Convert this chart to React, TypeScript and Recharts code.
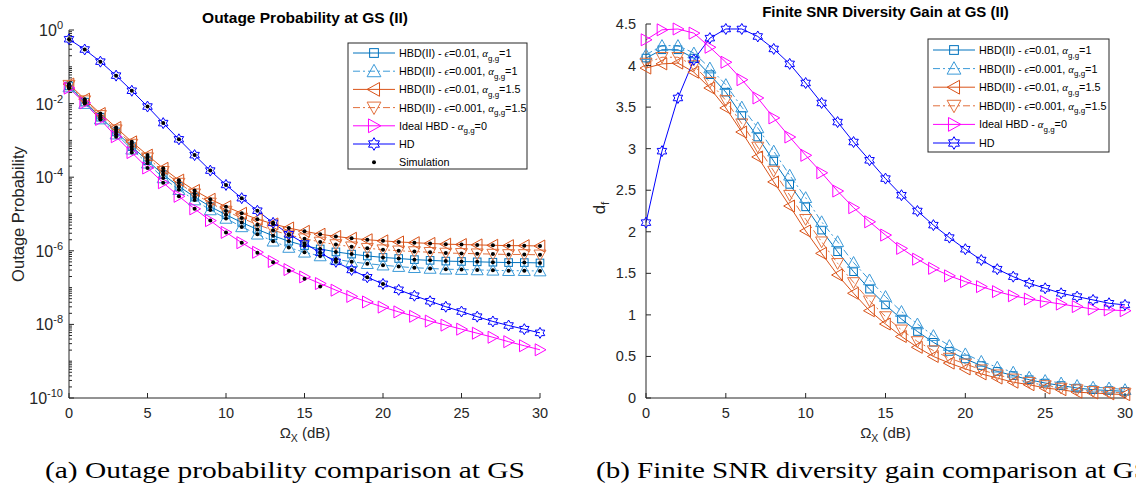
import React from "react";
import { ComposedChart, Line, XAxis, YAxis } from "recharts";

// x axis: Omega_X in dB
const snrDb = [0, 1, 2, 3, 4, 5, 6, 7, 8, 9, 10, 11, 12, 13, 14, 15, 16, 17, 18, 19, 20, 21, 22, 23, 24, 25, 26, 27, 28, 29, 30];
const xTicks = [0, 5, 10, 15, 20, 25, 30];

// (a) outage probability, read as log10 exponents off the log axis
const outHbdE01A1 = [-1.52, -1.96, -2.37, -2.77, -3.17, -3.55, -3.93, -4.25, -4.54, -4.80, -5.02, -5.23, -5.42, -5.59, -5.74, -5.86, -5.95, -6.03, -6.09, -6.14, -6.18, -6.21, -6.24, -6.26, -6.28, -6.29, -6.30, -6.31, -6.32, -6.32, -6.33];
const outHbdE001A1 = [-1.55, -2.00, -2.42, -2.83, -3.24, -3.62, -4.02, -4.34, -4.62, -4.89, -5.12, -5.35, -5.55, -5.74, -5.91, -6.04, -6.14, -6.23, -6.30, -6.35, -6.39, -6.43, -6.46, -6.48, -6.50, -6.51, -6.52, -6.53, -6.54, -6.54, -6.55];
const outHbdE01A15 = [-1.47, -1.88, -2.27, -2.65, -3.04, -3.40, -3.76, -4.08, -4.36, -4.60, -4.80, -4.98, -5.14, -5.27, -5.38, -5.47, -5.55, -5.61, -5.66, -5.70, -5.73, -5.76, -5.78, -5.80, -5.82, -5.83, -5.84, -5.85, -5.86, -5.86, -5.87];
const outHbdE001A15 = [-1.50, -1.92, -2.32, -2.71, -3.10, -3.47, -3.84, -4.16, -4.45, -4.70, -4.92, -5.11, -5.29, -5.44, -5.57, -5.67, -5.76, -5.83, -5.89, -5.93, -5.97, -6.00, -6.02, -6.04, -6.06, -6.07, -6.08, -6.09, -6.10, -6.10, -6.11];
const outIdeal = [-1.58, -1.98, -2.43, -2.90, -3.33, -3.75, -4.15, -4.52, -4.86, -5.18, -5.50, -5.78, -6.04, -6.29, -6.51, -6.71, -6.89, -7.07, -7.24, -7.39, -7.53, -7.66, -7.78, -7.91, -8.02, -8.13, -8.24, -8.35, -8.47, -8.58, -8.69];
const outHd = [-0.25, -0.53, -0.86, -1.24, -1.65, -2.08, -2.53, -2.97, -3.40, -3.82, -4.21, -4.57, -4.91, -5.24, -5.55, -5.80, -6.05, -6.30, -6.52, -6.72, -6.90, -7.06, -7.22, -7.37, -7.52, -7.65, -7.79, -7.92, -8.03, -8.13, -8.23];
// simulation dots for ideal HBD and HD only go up to 16 dB and 20 dB
const simIdeal = [-1.58, -1.98, -2.43, -2.90, -3.33, -3.75, -4.15, -4.52, -4.86, -5.18, -5.50, -5.78, -6.05, -6.31, -6.54, -6.76, -6.97];
const simHd = [-0.25, -0.53, -0.86, -1.24, -1.65, -2.08, -2.53, -2.97, -3.40, -3.82, -4.21, -4.57, -4.91, -5.24, -5.55, -5.80, -6.05, -6.30, -6.52, -6.72, -6.90];
const outageLabelExp = [0, -2, -4, -6, -8, -10];

// (b) finite SNR diversity gain
const dfHbdE01A1 = [4.09, 4.19, 4.19, 4.09, 3.89, 3.68, 3.40, 3.14, 2.85, 2.57, 2.30, 2.02, 1.76, 1.52, 1.31, 1.12, 0.95, 0.80, 0.67, 0.56, 0.47, 0.39, 0.32, 0.27, 0.22, 0.18, 0.15, 0.12, 0.10, 0.09, 0.08];
const dfHbdE001A1 = [4.13, 4.24, 4.24, 4.15, 3.97, 3.77, 3.50, 3.25, 2.97, 2.68, 2.41, 2.12, 1.88, 1.63, 1.42, 1.22, 1.04, 0.89, 0.75, 0.63, 0.53, 0.44, 0.37, 0.31, 0.25, 0.21, 0.18, 0.15, 0.13, 0.12, 0.10];
const dfHbdE01A15 = [3.97, 4.02, 4.03, 3.92, 3.73, 3.49, 3.20, 2.90, 2.60, 2.31, 2.01, 1.74, 1.48, 1.26, 1.05, 0.89, 0.74, 0.61, 0.50, 0.42, 0.35, 0.29, 0.24, 0.19, 0.16, 0.12, 0.10, 0.07, 0.06, 0.05, 0.04];
const dfHbdE001A15 = [4.03, 4.10, 4.10, 4.00, 3.80, 3.58, 3.30, 3.02, 2.73, 2.44, 2.15, 1.88, 1.62, 1.39, 1.17, 0.98, 0.82, 0.68, 0.57, 0.48, 0.41, 0.34, 0.28, 0.23, 0.19, 0.15, 0.12, 0.10, 0.08, 0.07, 0.06];
const dfIdeal = [4.31, 4.43, 4.44, 4.39, 4.22, 4.04, 3.83, 3.61, 3.37, 3.14, 2.92, 2.71, 2.49, 2.29, 2.12, 1.96, 1.80, 1.67, 1.56, 1.47, 1.40, 1.34, 1.28, 1.23, 1.19, 1.16, 1.13, 1.10, 1.07, 1.06, 1.05];
const dfHd = [2.11, 2.97, 3.61, 4.07, 4.33, 4.44, 4.44, 4.35, 4.20, 4.02, 3.79, 3.55, 3.32, 3.08, 2.86, 2.64, 2.44, 2.25, 2.08, 1.93, 1.79, 1.66, 1.55, 1.46, 1.38, 1.32, 1.26, 1.22, 1.18, 1.14, 1.12];
const dfTicks = [0, 0.5, 1, 1.5, 2, 2.5, 3, 3.5, 4, 4.5];

const pow10 = (e: number | undefined) => (e === undefined ? null : Math.pow(10, e));

const outageRows = snrDb.map((x, i) => ({
  x,
  hbdA: pow10(outHbdE01A1[i]),
  hbdB: pow10(outHbdE001A1[i]),
  hbdC: pow10(outHbdE01A15[i]),
  hbdD: pow10(outHbdE001A15[i]),
  ideal: pow10(outIdeal[i]),
  hd: pow10(outHd[i]),
  simIdeal: pow10(simIdeal[i]),
  simHd: pow10(simHd[i]),
}));

const dfRows = snrDb.map((x, i) => ({
  x,
  hbdA: dfHbdE01A1[i],
  hbdB: dfHbdE001A1[i],
  hbdC: dfHbdE01A15[i],
  hbdD: dfHbdE001A15[i],
  ideal: dfIdeal[i],
  hd: dfHd[i],
}));

// log axis ticks: decades plus 2..9 minors
const logTicks: number[] = [];
for (let e = 0; e >= -10; e--) {
  logTicks.push(Math.pow(10, e));
  if (e > -10) for (let m = 2; m <= 9; m++) logTicks.push(m * Math.pow(10, e - 1));
}

const FONT = "'Liberation Sans', Arial, Helvetica, sans-serif";
const SERIF = "'Liberation Serif', 'Times New Roman', serif";
const AXIS = "#262626";
const DASHDOT = "7 3 2 3";

type Kind = "square" | "up" | "left" | "down" | "right" | "hex";

const SERIES: { key: string; color: string; dash?: string; kind: Kind }[] = [
  { key: "hbdA", color: "#0072BD", kind: "square" },
  { key: "hbdB", color: "#3C9AD8", dash: DASHDOT, kind: "up" },
  { key: "hbdC", color: "#D95319", kind: "left" },
  { key: "hbdD", color: "#E2703D", dash: DASHDOT, kind: "down" },
  { key: "ideal", color: "#FF00FF", kind: "right" },
  { key: "hd", color: "#0000FF", kind: "hex" },
];

const pts = (p: number[][]) => p.map((q) => `${q[0].toFixed(2)},${q[1].toFixed(2)}`).join(" ");

function markerEl(kind: Kind, x: number, y: number, color: string, s = 1) {
  const r = 6 * s;
  const common = { fill: "none", stroke: color, strokeWidth: 1 };
  switch (kind) {
    case "square": {
      const h = 3.8 * s;
      return <rect x={x - h} y={y - h} width={2 * h} height={2 * h} {...common} />;
    }
    case "up":
      return <polygon points={pts([[x, y - r], [x - r, y + 0.8 * r], [x + r, y + 0.8 * r]])} {...common} />;
    case "down":
      return <polygon points={pts([[x, y + r], [x - r, y - 0.8 * r], [x + r, y - 0.8 * r]])} {...common} />;
    case "left":
      return <polygon points={pts([[x - r, y], [x + 0.8 * r, y - r], [x + 0.8 * r, y + r]])} {...common} />;
    case "right":
      return <polygon points={pts([[x + r, y], [x - 0.8 * r, y - r], [x - 0.8 * r, y + r]])} {...common} />;
    default: {
      const R = 5.5 * s;
      const ri = R / Math.sqrt(3);
      const p: number[][] = [];
      for (let k = 0; k < 12; k++) {
        const a = -Math.PI / 2 + (k * Math.PI) / 6;
        const rr = k % 2 === 0 ? R : ri;
        p.push([x + rr * Math.cos(a), y + rr * Math.sin(a)]);
      }
      return <polygon points={pts(p)} {...common} />;
    }
  }
}

const makeDot = (kind: Kind, color: string) => (props: any) => {
  const { cx, cy, index } = props;
  if (cx == null || cy == null || Number.isNaN(cy)) return <g key={`m${index}`} />;
  return <g key={`m${index}`}>{markerEl(kind, cx, cy, color)}</g>;
};

const simDot = (props: any) => {
  const { cx, cy, index } = props;
  if (cx == null || cy == null || Number.isNaN(cy)) return <g key={`s${index}`} />;
  return <circle key={`s${index}`} cx={cx} cy={cy} r={2} fill="#000" />;
};

// ---- ticks (MATLAB style: inward tick marks) ----
const BottomTick = (props: any) => {
  const { x, y, payload } = props;
  return (
    <g>
      <line x1={x} x2={x} y1={y} y2={y - 5} stroke={AXIS} />
      <text x={x} y={y + 20} textAnchor="middle" fontSize={14.5} fill={AXIS} fontFamily={FONT}>
        {payload.value}
      </text>
    </g>
  );
};
const TopTick = (props: any) => {
  const { x, y } = props;
  return <line x1={x} x2={x} y1={y} y2={y + 5} stroke={AXIS} />;
};
const isDecade = (v: number) => {
  const e = Math.log10(v);
  return Math.abs(e - Math.round(e)) < 1e-6;
};
const LogLeftTick = (props: any) => {
  const { x, y, payload } = props;
  const v = payload.value as number;
  const e = Math.round(Math.log10(v));
  const major = isDecade(v) && outageLabelExp.includes(e);
  return (
    <g>
      <line x1={x} x2={x + (major ? 5 : 3)} y1={y} y2={y} stroke={AXIS} />
      {major && (
        <text x={x - 6} y={y + 6} textAnchor="end" fontSize={16} fill={AXIS} fontFamily={FONT}>
          <tspan>10</tspan>
          <tspan dy={-7} fontSize={11}>{e}</tspan>
        </text>
      )}
    </g>
  );
};
const LogRightTick = (props: any) => {
  const { x, y, payload } = props;
  const v = payload.value as number;
  const major = isDecade(v) && outageLabelExp.includes(Math.round(Math.log10(v)));
  return <line x1={x} x2={x - (major ? 5 : 3)} y1={y} y2={y} stroke={AXIS} />;
};
const LinLeftTick = (props: any) => {
  const { x, y, payload } = props;
  return (
    <g>
      <line x1={x} x2={x + 5} y1={y} y2={y} stroke={AXIS} />
      <text x={x - 10} y={y + 5} textAnchor="end" fontSize={14.5} fill={AXIS} fontFamily={FONT}>
        {payload.value}
      </text>
    </g>
  );
};
const LinRightTick = (props: any) => {
  const { x, y } = props;
  return <line x1={x} x2={x - 5} y1={y} y2={y} stroke={AXIS} />;
};

// ---- legend ----
const hbdLabel = (eps: string, alpha: string) => (
  <>
    <tspan>HBD(II) - </tspan>
    <tspan fontFamily={SERIF} fontStyle="italic">ϵ</tspan>
    <tspan>={eps}, </tspan>
    <tspan fontFamily={SERIF} fontStyle="italic">α</tspan>
    <tspan dy={3.5} fontSize={8}>g,g</tspan>
    <tspan dy={-3.5}>={alpha}</tspan>
  </>
);
const legendLabels = [
  hbdLabel("0.01", "1"),
  hbdLabel("0.001", "1"),
  hbdLabel("0.01", "1.5"),
  hbdLabel("0.001", "1.5"),
  <>
    <tspan>Ideal HBD - </tspan>
    <tspan fontFamily={SERIF} fontStyle="italic">α</tspan>
    <tspan dy={3.5} fontSize={8}>g,g</tspan>
    <tspan dy={-3.5}>=0</tspan>
  </>,
  <tspan>HD</tspan>,
];

function LegendBox(p: { x: number; y: number; w: number; h: number; row0: number; step: number; withSim: boolean }) {
  const lx0 = p.x + 5;
  const lx1 = p.x + 47;
  const mx = (lx0 + lx1) / 2;
  const tx = lx1 + 4;
  return (
    <g fontFamily={FONT} fontSize={10.8} fill="#000">
      <rect x={p.x} y={p.y} width={p.w} height={p.h} fill="#fff" stroke={AXIS} strokeWidth={1} />
      {SERIES.map((s, i) => {
        const y = p.row0 + i * p.step;
        return (
          <g key={s.key}>
            <line x1={lx0} x2={lx1} y1={y} y2={y} stroke={s.color} strokeWidth={1} strokeDasharray={s.dash} />
            {markerEl(s.kind, mx, y, s.color, 1.15)}
            <text x={tx} y={y + 4}>{legendLabels[i]}</text>
          </g>
        );
      })}
      {p.withSim && (
        <g>
          <circle cx={mx} cy={p.row0 + 6 * p.step} r={2} fill="#000" />
          <text x={tx} y={p.row0 + 6 * p.step + 4}>Simulation</text>
        </g>
      )}
    </g>
  );
}

const seriesLines = (withSim: boolean) => {
  const out: React.ReactNode[] = SERIES.map((s) => (
    <Line
      key={s.key}
      dataKey={s.key}
      stroke={s.color}
      strokeWidth={1}
      strokeDasharray={s.dash}
      dot={makeDot(s.kind, s.color)}
      activeDot={false}
      isAnimationActive={false}
      legendType="none"
    />
  ));
  if (withSim) {
    ["hbdA", "hbdB", "hbdC", "hbdD", "simIdeal", "simHd"].forEach((k) =>
      out.push(
        <Line
          key={`sim-${k}`}
          dataKey={k}
          stroke="none"
          dot={simDot}
          activeDot={false}
          isAnimationActive={false}
          legendType="none"
        />
      )
    );
  }
  return out;
};

function OutageChart() {
  return (
    <ComposedChart width={570} height={491} data={outageRows} margin={{ top: 30, right: 30, bottom: 0, left: 0 }}>
      <XAxis dataKey="x" type="number" domain={[0, 30]} ticks={xTicks} interval={0} height={93}
        tickSize={0} tickMargin={0} tickLine={false} axisLine={{ stroke: AXIS }} tick={(p: any) => <BottomTick {...p} />} />
      <XAxis xAxisId="top" orientation="top" dataKey="x" type="number" domain={[0, 30]} ticks={xTicks} interval={0} height={0}
        tickSize={0} tickMargin={0} tickLine={false} axisLine={{ stroke: AXIS }} tick={(p: any) => <TopTick {...p} />} />
      <YAxis type="number" scale="log" domain={[1e-10, 1]} allowDataOverflow ticks={logTicks} interval={0} width={69}
        tickSize={0} tickMargin={0} tickLine={false} axisLine={{ stroke: AXIS }} tick={(p: any) => <LogLeftTick {...p} />} />
      <YAxis yAxisId="right" orientation="right" type="number" scale="log" domain={[1e-10, 1]} allowDataOverflow ticks={logTicks}
        interval={0} width={0} tickSize={0} tickMargin={0} tickLine={false} axisLine={{ stroke: AXIS }}
        tick={(p: any) => <LogRightTick {...p} />} />
      {seriesLines(true)}
      <LegendBox x={348} y={43} w={179} h={126} row0={53} step={18.2} withSim />
      <text x={305} y={23} textAnchor="middle" fontFamily={FONT} fontWeight="bold" fontSize={15.5} fill="#000">
        Outage Probability at GS (II)
      </text>
      <text transform="translate(24,214) rotate(-90)" textAnchor="middle" fontFamily={FONT} fontSize={16.5} fill={AXIS}>
        Outage Probability
      </text>
      <text x={305} y={438} textAnchor="middle" fontFamily={FONT} fontSize={15} fill={AXIS}>
        <tspan>Ω</tspan>
        <tspan dy={4} fontSize={10.5}>X</tspan>
        <tspan dy={-4}> (dB)</tspan>
      </text>
      <text x={45} y={478} fontFamily={SERIF} fontSize={24} fill="#000" textLength={480} lengthAdjust="spacingAndGlyphs">
        (a) Outage probability comparison at GS
      </text>
    </ComposedChart>
  );
}

function DiversityChart() {
  return (
    <ComposedChart width={566} height={491} data={dfRows} margin={{ top: 24, right: 11, bottom: 0, left: 0 }}>
      <XAxis dataKey="x" type="number" domain={[0, 30]} ticks={xTicks} interval={0} height={93}
        tickSize={0} tickMargin={0} tickLine={false} axisLine={{ stroke: AXIS }} tick={(p: any) => <BottomTick {...p} />} />
      <XAxis xAxisId="top" orientation="top" dataKey="x" type="number" domain={[0, 30]} ticks={xTicks} interval={0} height={0}
        tickSize={0} tickMargin={0} tickLine={false} axisLine={{ stroke: AXIS }} tick={(p: any) => <TopTick {...p} />} />
      <YAxis type="number" domain={[0, 4.5]} ticks={dfTicks} interval={0} width={76}
        tickSize={0} tickMargin={0} tickLine={false} axisLine={{ stroke: AXIS }} tick={(p: any) => <LinLeftTick {...p} />} />
      <YAxis yAxisId="right" orientation="right" type="number" domain={[0, 4.5]} ticks={dfTicks} interval={0} width={0}
        tickSize={0} tickMargin={0} tickLine={false} axisLine={{ stroke: AXIS, strokeWidth: 1.5 }}
        tick={(p: any) => <LinRightTick {...p} />} />
      {seriesLines(false)}
      <LegendBox x={358} y={39} w={181} h={113} row0={50} step={18.6} withSim={false} />
      <text x={315.5} y={17} textAnchor="middle" fontFamily={FONT} fontWeight="bold" fontSize={15} fill="#000">
        Finite SNR Diversity Gain at GS (II)
      </text>
      <text transform="translate(35,208) rotate(-90)" textAnchor="middle" fontFamily={FONT} fontSize={17} fill={AXIS}>
        <tspan>d</tspan>
        <tspan dy={4} fontSize={11.5}>f</tspan>
      </text>
      <text x={315.5} y={438} textAnchor="middle" fontFamily={FONT} fontSize={15} fill={AXIS}>
        <tspan>Ω</tspan>
        <tspan dy={4} fontSize={10.5}>X</tspan>
        <tspan dy={-4}> (dB)</tspan>
      </text>
      <text x={26} y={478} fontFamily={SERIF} fontSize={24} fill="#000" textLength={554} lengthAdjust="spacingAndGlyphs">
        (b) Finite SNR diversity gain comparison at GS
      </text>
    </ComposedChart>
  );
}

export default function App() {
  return (
    <div style={{ position: "absolute", left: 0, top: 0, width: 1136, height: 491, overflow: "hidden", background: "#fff" }}>
      <div style={{ position: "absolute", left: 0, top: 0 }}>
        <OutageChart />
      </div>
      <div style={{ position: "absolute", left: 570, top: 0 }}>
        <DiversityChart />
      </div>
    </div>
  );
}
